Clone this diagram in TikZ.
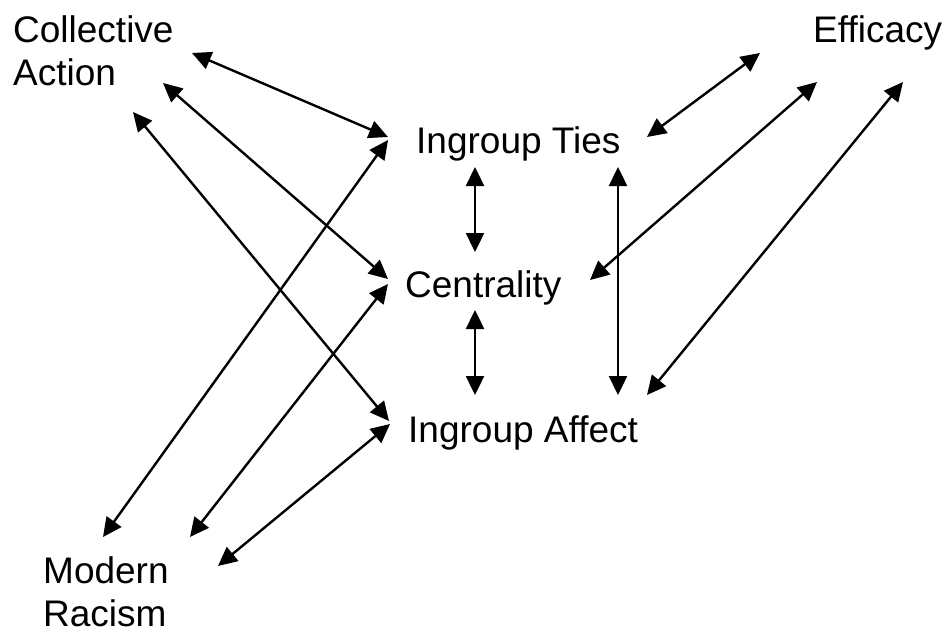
\documentclass[tikz,border=0pt]{standalone}
\usepackage{fontspec}
\setmainfont{Liberation Sans}
\usetikzlibrary{arrows.meta}
\begin{document}
\begin{tikzpicture}[x=1pt,y=-1pt,
  lbl/.style={anchor=base west,inner sep=0pt,font=\fontsize{37}{43}\selectfont,align=left},
  conn/.style={line width=2.4pt,{Triangle[length=19pt,width=18pt]}-{Triangle[length=19pt,width=18pt]}}]
\useasboundingbox (0,0) rectangle (947,632);
\node[lbl] (ca) at (13,85) {Collective\\Action};
\node[lbl] (ef) at (813,42) {Efficacy};
\node[lbl] (it) at (416,153) {Ingroup Ties};
\node[lbl] (ce) at (405,297) {Centrality};
\node[lbl] (ia) at (408,442) {Ingroup Affect};
\node[lbl] (mr) at (43,626) {Modern\\Racism};
% endpoints
\coordinate (ca1) at (192,53);  \coordinate (it1) at (388,137);
\coordinate (ca2) at (163,83);  \coordinate (ce1) at (388,279);
\coordinate (ca3) at (133,112); \coordinate (ia1) at (389,421);
\coordinate (mr1) at (103,537); \coordinate (it2) at (388,140);
\coordinate (mr2) at (190,537); \coordinate (ce2) at (388,284);
\coordinate (mr3) at (218,566); \coordinate (ia2) at (390,424);
\coordinate (it3) at (475,167); \coordinate (ce3) at (475,252);
\coordinate (ce4) at (475,310); \coordinate (ia3) at (475,395);
\coordinate (it4) at (618,167); \coordinate (ia4) at (618,395);
\coordinate (it5) at (647,137); \coordinate (ef1) at (760,53);
\coordinate (ce5) at (590,280); \coordinate (ef2) at (817,82);
\coordinate (ia5) at (647,395); \coordinate (ef3) at (903,82);
\draw[conn] (ca1) -- (it1);
\draw[conn] (ca2) -- (ce1);
\draw[conn] (ca3) -- (ia1);
\draw[conn] (mr1) -- (it2);
\draw[conn] (mr2) -- (ce2);
\draw[conn] (mr3) -- (ia2);
\draw[conn] (it3) -- (ce3);
\draw[conn] (ce4) -- (ia3);
\draw[conn] (it4) -- (ia4);
\draw[conn] (it5) -- (ef1);
\draw[conn] (ce5) -- (ef2);
\draw[conn] (ia5) -- (ef3);
\end{tikzpicture}
\end{document}
